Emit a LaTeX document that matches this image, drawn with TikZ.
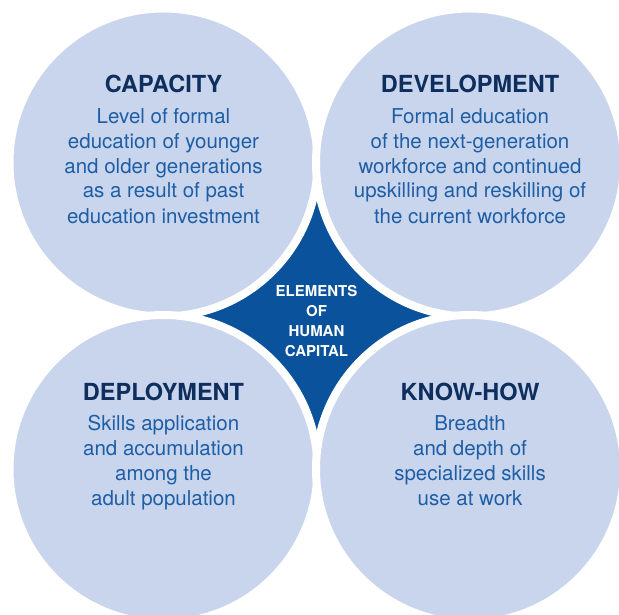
\documentclass[tikz,border=0pt]{standalone}
\usepackage{fontspec}
\setmainfont{TeX Gyre Heros}
\usetikzlibrary{positioning}
\definecolor{disc}{RGB}{200,213,236}
\definecolor{starblue}{RGB}{10,82,156}
\definecolor{headline}{RGB}{14,46,94}
\definecolor{bodytext}{RGB}{30,94,166}

\begin{document}
\begin{tikzpicture}[
    x=1pt, y=-1pt,
    element/.style={circle, fill=disc, draw=white, line width=8pt, minimum size=308pt, inner sep=0pt},
    heading/.style={anchor=base, text=headline, font=\fontsize{23.5}{28}\selectfont\bfseries},
    blurb/.style={anchor=base, align=center, text=bodytext, font=\fontsize{20.5}{25}\selectfont},
    core/.style={align=center, text=white, font=\fontsize{15}{20}\selectfont\bfseries}
]
    \useasboundingbox (0,0) rectangle (619,615);
    \coordinate (nw) at (163.5,162.5);
    \coordinate (ne) at (470,162.5);
    \coordinate (sw) at (163.5,469);
    \coordinate (se) at (470,469);

    % the star is what the white rings leave of this square
    \fill[starblue] (nw) rectangle (se);

    \node[element] (capacity) at (nw) {};
    \node[element] (development) at (ne) {};
    \node[element] (deployment) at (sw) {};
    \node[element] (knowhow) at (se) {};

    % blurbs sit on the baseline of their last line
    \node[heading] (capacity-head) at (163.5,93) {CAPACITY};
    \node[blurb] (capacity-text) at (163.5,223) {Level of formal\\education of younger\\and older generations\\as a result of past\\education investment};

    \node[heading] (development-head) at (470,93) {DEVELOPMENT};
    \node[blurb] (development-text) at (470,223) {Formal education\\of the next-generation\\workforce and continued\\upskilling and reskilling of\\the current workforce};

    \node[heading] (deployment-head) at (163.5,400) {DEPLOYMENT};
    \node[blurb] (deployment-text) at (163.5,505) {Skills application\\and accumulation\\among the\\adult population};

    \node[heading] (knowhow-head) at (470,400) {KNOW-HOW};
    \node[blurb] (knowhow-text) at (470,505) {Breadth\\and depth of\\specialized skills\\use at work};

    \node[core] (elements) at (316.5,321) {ELEMENTS\\OF\\HUMAN\\CAPITAL};
\end{tikzpicture}
\end{document}
